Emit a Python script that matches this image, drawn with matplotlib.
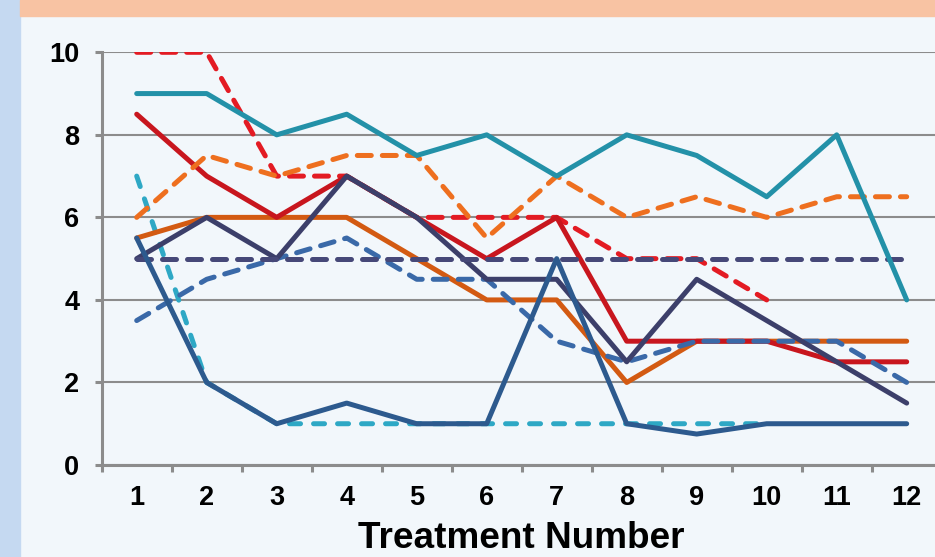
import matplotlib.pyplot as plt
import matplotlib.patches as patches
import numpy as np

nan = np.nan

treatments = [1, 2, 3, 4, 5, 6, 7, 8, 9, 10, 11, 12]

red_dashed = [10, 10, 7, 7, 6, 6, 6, 5, 5, 4, nan, nan]
cyan_dashed = [7, 2, 1, 1, 1, 1, 1, 1, 1, 1, nan, nan]
orange_solid = [5.5, 6, 6, 6, 5, 4, 4, 2, 3, 3, 3, 3]
red_solid = [8.5, 7, 6, 7, 6, 5, 6, 3, 3, 3, 2.5, 2.5]
blue_dashed = [3.5, 4.5, 5, 5.5, 4.5, 4.5, 3, 2.5, 3, 3, 3, 2]
navy_solid = [5, 6, 5, 7, 6, 4.5, 4.5, 2.5, 4.5, 3.5, 2.5, 1.5]
navy_dashed = [5, 5, 5, 5, 5, 5, 5, 5, 5, 5, 5, 5]
blue_solid = [5.5, 2, 1, 1.5, 1, 1, 5, 1, 0.75, 1, 1, 1]
orange_dashed = [6, 7.5, 7, 7.5, 7.5, 5.5, 7, 6, 6.5, 6, 6.5, 6.5]
teal_solid = [9, 9, 8, 8.5, 7.5, 8, 7, 8, 7.5, 6.5, 8, 4]

y_ticks = [0, 2, 4, 6, 8, 10]

bg = '#F2F7FB'
gray = '#8C8C8C'
plt.rcParams['font.family'] = ['Liberation Sans', 'DejaVu Sans']

fig = plt.figure(figsize=(9.35, 5.57), dpi=100, facecolor=bg)

#side strip and header band
fig.patches.append(patches.Rectangle((0, 0), 20 / 935, 1, transform=fig.transFigure,
                                     color='#C5D9F1', zorder=0))
fig.patches.append(patches.Rectangle((20 / 935, 1 - 16 / 557), 1, 16 / 557,
                                     transform=fig.transFigure, color='#F8C3A3', zorder=0))

ax = fig.add_axes([101.7 / 935, 92 / 557, 840 / 935, 412.7 / 557])
ax.set_facecolor(bg)

lw = 3.6
dash = (2.8, 2.2)
ax.plot(treatments, red_dashed, color='#E31B23', lw=lw, dashes=dash, dash_capstyle='round')
ax.plot(treatments, cyan_dashed, color='#2EA8C5', lw=lw, dashes=(2.2, 2.6), dash_capstyle='round')
ax.plot(treatments, orange_solid, color='#D35A12', lw=lw, solid_capstyle='round')
ax.plot(treatments, red_solid, color='#C8161E', lw=lw, solid_capstyle='round')
ax.plot(treatments, blue_dashed, color='#3A69A8', lw=lw, dashes=dash, dash_capstyle='round')
ax.plot(treatments, navy_solid, color='#3C3F6A', lw=lw, solid_capstyle='round')
ax.plot(treatments, navy_dashed, color='#464878', lw=lw, dashes=dash, dash_capstyle='round')
ax.plot(treatments, blue_solid, color='#2D5A8E', lw=lw, solid_capstyle='round')
ax.plot(treatments, orange_dashed, color='#EE6F1F', lw=lw, dashes=dash, dash_capstyle='round')
ax.plot(treatments, teal_solid, color='#2391A8', lw=lw, solid_capstyle='round')

ax.set_xlim(0.5, 12.5)
ax.set_ylim(0, 10)
ax.set_yticks(y_ticks)
ax.set_xticks(treatments)
ax.set_xticks(np.arange(0.5, 12, 1), minor=True)
ax.yaxis.grid(True, color=gray, lw=1.5)
ax.set_axisbelow(True)

for side in ['top', 'right']:
    ax.spines[side].set_visible(False)
for side in ['left', 'bottom']:
    ax.spines[side].set_color(gray)
    ax.spines[side].set_linewidth(2.2)

ax.tick_params(axis='y', length=5, width=2.2, color=gray, pad=11, labelsize=19.5)
ax.tick_params(axis='x', which='major', length=0, pad=14.5, labelsize=19.5)
ax.tick_params(axis='x', which='minor', length=5, width=2.2, color=gray)
for lab in ax.get_xticklabels() + ax.get_yticklabels():
    lab.set_fontweight('bold')

fig.text(521.7 / 935, 1 / 557, 'Treatment Number', ha='center', va='bottom',
         fontsize=26.6, fontweight='bold')

plt.savefig('out.png', dpi=100, facecolor=bg)
